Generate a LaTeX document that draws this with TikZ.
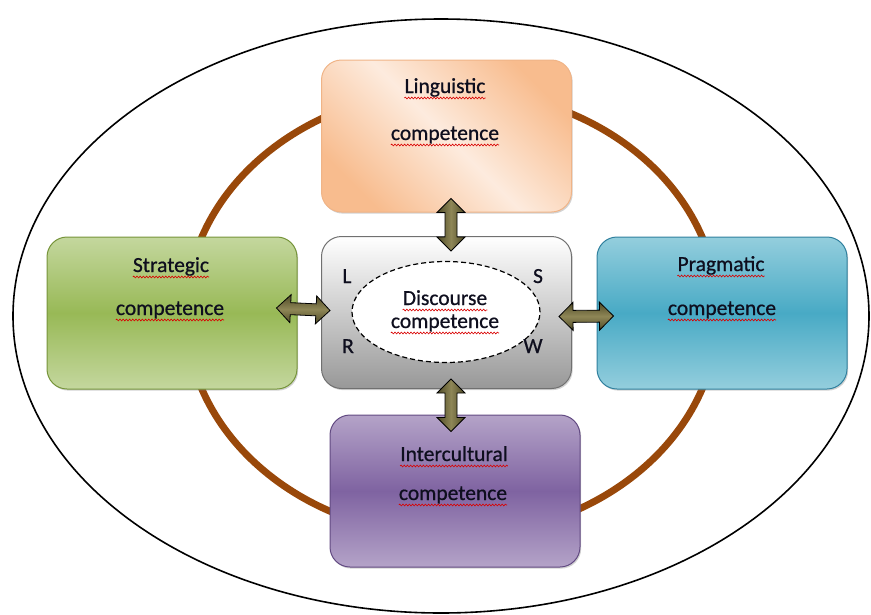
\documentclass[tikz,border=0pt]{standalone}
\usepackage{fontspec}
\setmainfont{Carlito}
\newfontfamily\labelfont{Carlito}[FakeBold=0.7]
\usetikzlibrary{calc,shadows,shapes.geometric,decorations.pathmorphing}

\definecolor{ringbrown}{RGB}{153,72,10}
\definecolor{inkc}{RGB}{14,14,30}
\definecolor{peachdark}{RGB}{248,188,142}
\definecolor{peachlight}{RGB}{253,235,222}
\definecolor{peachline}{RGB}{240,180,135}
\definecolor{greenlight}{RGB}{196,215,158}
\definecolor{greendark}{RGB}{152,185,86}
\definecolor{greenline}{RGB}{118,148,58}
\definecolor{bluelight}{RGB}{148,206,221}
\definecolor{bluedark}{RGB}{72,170,197}
\definecolor{blueline}{RGB}{48,128,158}
\definecolor{purplelight}{RGB}{180,163,200}
\definecolor{purpledark}{RGB}{127,99,161}
\definecolor{purpleline}{RGB}{98,74,130}
\definecolor{graydark}{RGB}{152,152,152}
\definecolor{grayline}{RGB}{112,112,112}
\definecolor{olivedark}{RGB}{78,74,38}
\definecolor{olivelight}{RGB}{142,134,86}

\newcommand\squiggle[1]{\draw[spell] ([yshift=-5pt]#1.base west) -- ([yshift=-5pt]#1.base east);}

\tikzset{
  card/.style={rectangle, rounded corners=20pt, minimum width=250pt,
    minimum height=152pt, line width=1pt,
    drop shadow={shadow xshift=1.2pt, shadow yshift=-1.6pt, opacity=0.35}},
  txt/.style={inner sep=0pt, anchor=base, text=inkc,
    font=\labelfont\fontsize{21.5}{24}\selectfont},
  spell/.style={draw=red!85!black, line width=0.6pt, decorate,
    decoration={snake, amplitude=0.9pt, segment length=3.2pt}},
  biarrow/.style={draw=black, line width=0.8pt, to path={
    let \p1=(\tikztostart), \p2=(\tikztotarget),
        \n1={atan2(\y2-\y1,\x2-\x1)}, \n2={veclen(\x2-\x1,\y2-\y1)} in
    [shift={(\p1)}, rotate=\n1]
    (0pt,0pt) -- (14pt,14pt) -- (14pt,6pt) -- (\n2-14pt,6pt) -- (\n2-14pt,14pt)
    -- (\n2,0pt) -- (\n2-14pt,-14pt) -- (\n2-14pt,-6pt) -- (14pt,-6pt)
    -- (14pt,-14pt) -- cycle}},
  vshade/.style={left color=olivedark, right color=olivedark, middle color=olivelight},
  hshade/.style={top color=olivedark, bottom color=olivedark, middle color=olivelight},
  band/.style 2 args={top color=#1, bottom color=#1, middle color=#2}
}

\begin{document}
\begin{tikzpicture}[x=1pt,y=-1pt]
\useasboundingbox (0,0) rectangle (871,614);

% outer frame and the ring behind the cards
\draw[line width=1.6pt] (441,316) ellipse [x radius=428pt, y radius=297pt];
\draw[ringbrown, line width=7pt] (452,313) ellipse [x radius=266pt, y radius=223pt];

% competence cards
\node[card, draw=peachline, band={peachdark}{peachlight}, shading angle=-45]
  (ling) at (446.5,136) {};
\node[card, draw=greenline, band={greenlight}{greendark}] (strat) at (172,313) {};
\node[card, draw=blueline, band={bluelight}{bluedark}] (prag) at (722,313) {};
\node[card, draw=purpleline, band={purplelight}{purpledark}] (inter) at (455,491) {};
\node[card, draw=grayline, top color=white, bottom color=graydark]
  (disc) at (446.5,312.5) {};

% arrow ends
\coordinate (a1) at ([xshift=4.5pt,yshift=14pt]ling.south);
\coordinate (a2) at ([xshift=4.5pt,yshift=-15pt]disc.north);
\coordinate (b1) at ([xshift=4.5pt,yshift=10pt]disc.south);
\coordinate (b2) at ([xshift=-4pt,yshift=-17pt]inter.north);
\coordinate (c1) at ([xshift=-21pt,yshift=5pt]strat.east);
\coordinate (c2) at ([xshift=9pt,yshift=2pt]disc.west);
\coordinate (d1) at ([xshift=-13pt,yshift=-4pt]disc.east);
\coordinate (d2) at ([xshift=17pt,yshift=-3pt]prag.west);

\draw[biarrow, vshade] (a1) to (a2);
\draw[biarrow, vshade] (b1) to (b2);
\draw[biarrow, hshade] (c1) to (c2);
\draw[biarrow, hshade] (d1) to (d2);

% discourse core
\node[ellipse, draw, fill=white, line width=1.2pt, dash pattern=on 5pt off 3pt,
  minimum width=188pt, minimum height=101pt] (core) at (446,312) {};

% labels
\node[txt] (t1) at (445,93) {Linguistic};
\node[txt] (t2) at (445,140) {competence};
\node[txt] (t3) at (171,272) {Strategic};
\node[txt] (t4) at (170,315) {competence};
\node[txt] (t5) at (721,271) {Pragmatic};
\node[txt] (t6) at (722,315) {competence};
\node[txt] (t7) at (454,461) {Intercultural};
\node[txt] (t8) at (453,500) {competence};
\node[txt] (t9) at (445,305) {Discourse};
\node[txt] (t10) at (445,328) {competence};

\foreach \w in {t1,t2,t3,t4,t5,t6,t7,t8,t9,t10} {\squiggle{\w}}

\node[txt] (sl) at (347,283) {L};
\node[txt] (ss) at (538,283) {S};
\node[txt] (sr) at (348,353) {R};
\node[txt] (sw) at (533,353) {W};
\end{tikzpicture}
\end{document}
